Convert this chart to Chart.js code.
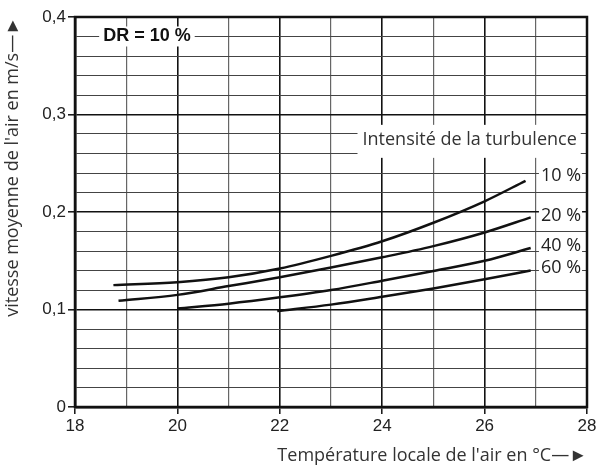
<!DOCTYPE html>
<html>
<head>
<meta charset="utf-8">
<script src="https://cdn.jsdelivr.net/npm/chart.js@4/dist/chart.umd.min.js"></script>
<style>
  html, body { margin: 0; padding: 0; background: #fff; }
  #wrap { width: 597px; height: 467px; }
</style>
</head>
<body>
<div id="wrap"><canvas id="myChart" width="597" height="467"></canvas></div>
<script>
// DR = 10 % curves
const temp10 = [18.75, 20, 21, 22, 23, 24, 25, 26, 26.8]
const speed10 = [0.125, 0.128, 0.133, 0.142, 0.155, 0.17, 0.189, 0.211, 0.232]
const temp20 = [18.85, 20, 21, 22, 23, 24, 25, 26, 26.9]
const speed20 = [0.109, 0.115, 0.124, 0.133, 0.143, 0.1535, 0.165, 0.179, 0.1945]
const temp40 = [20, 21, 22, 23, 24, 25, 26, 26.9]
const speed40 = [0.101, 0.106, 0.1125, 0.12, 0.1295, 0.1395, 0.15, 0.163]
const temp60 = [21.95, 23, 24, 25, 26, 26.9]
const speed60 = [0.0985, 0.105, 0.113, 0.1215, 0.131, 0.14]

const turbLabels = ['10 %', '20 %', '40 %', '60 %']
const turbLabelY = [0.237, 0.196, 0.165, 0.1425]
const xTickLabels = [18, 20, 22, 24, 26, 28]
const yTickLabels = ['0', '0,1', '0,2', '0,3', '0,4']

function pts(xs, ys) {
  var out = []
  for (var i = 0; i < xs.length; i++) {
    out.push({x: xs[i], y: ys[i]})
  }
  return out
}

function curve(xs, ys) {
  return {
    data: pts(xs, ys),
    borderColor: '#111',
    borderWidth: 2.5,
    pointRadius: 0,
    fill: false,
    cubicInterpolationMode: 'monotone'
  }
}

function isMajorY(v) {
  return Math.round(v * 100) % 10 === 0
}

function isMajorX(v) {
  return xTickLabels.indexOf(Math.round(v)) !== -1
}

// white boxes + labels on top of the grid
var annotate = {
  id: 'annotate',
  beforeDatasetsDraw: function(chart) {
    var ctx = chart.ctx
    var xs = chart.scales.x, ys = chart.scales.y
    ctx.save()
    // DR box
    ctx.font = 'bold 18px "Liberation Sans", Arial, sans-serif'
    ctx.textBaseline = 'middle'
    ctx.textAlign = 'left'
    var t = 'DR = 10 %'
    var w = ctx.measureText(t).width
    var lx = xs.getPixelForValue(18.55), ly = ys.getPixelForValue(0.38)
    ctx.fillStyle = '#fff'
    ctx.fillRect(lx - 4, ly - 10, w + 8, 20)
    ctx.fillStyle = '#111'
    ctx.fillText(t, lx, ly)
    // legend title
    ctx.font = '18px "Open Sans", sans-serif'
    t = 'Intensité de la turbulence'
    w = ctx.measureText(t).width
    lx = xs.getPixelForValue(27.8) - w
    ly = ys.getPixelForValue(0.274)
    ctx.fillStyle = '#fff'
    ctx.fillRect(lx - 5, ly - 15, w + 9, 33)
    ctx.fillStyle = '#333'
    ctx.fillText(t, lx, ly)
    // curve labels
    for (var i = 0; i < turbLabels.length; i++) {
      w = ctx.measureText(turbLabels[i]).width
      lx = xs.getPixelForValue(27.1)
      ly = ys.getPixelForValue(turbLabelY[i])
      ctx.fillStyle = '#fff'
      ctx.fillRect(lx - 2, ly - 10, w + 3, 20)
      ctx.fillStyle = '#222'
      ctx.fillText(turbLabels[i], lx, ly)
    }
    ctx.restore()
  },
  afterDraw: function(chart) {
    var a = chart.chartArea
    var ctx = chart.ctx
    ctx.save()
    ctx.strokeStyle = '#111'
    ctx.lineWidth = 2.5
    ctx.strokeRect(a.left, a.top, a.right - a.left, a.bottom - a.top)
    ctx.restore()
  }
}

var ctx = document.getElementById('myChart').getContext('2d')
var myChart = new Chart(ctx, {
  type: 'line',
  data: {
    datasets: [curve(temp10, speed10), curve(temp20, speed20), curve(temp40, speed40), curve(temp60, speed60)]
  },
  options: {
    responsive: false,
    animation: false,
    layout: { padding: { top: 17, right: 10, left: 0, bottom: 0 } },
    plugins: { legend: { display: false }, tooltip: { enabled: false } },
    scales: {
      x: {
        type: 'linear',
        min: 18,
        max: 28,
        afterFit: function(scale) {
          scale.height = 60
          scale.paddingLeft = 0
          scale.paddingRight = 0
        },
        ticks: {
          stepSize: 1,
          autoSkip: false,
          maxRotation: 0,
          padding: 2,
          color: '#222',
          font: { family: '"Liberation Sans", Arial, sans-serif', size: 17 },
          callback: function(v) { return isMajorX(v) ? String(v) : '' }
        },
        grid: {
          color: function(c) { return isMajorX(c.tick.value) ? '#111' : '#666' },
          lineWidth: function(c) { return isMajorX(c.tick.value) ? 1.6 : 1.2 },
          tickColor: function(c) { return isMajorX(c.tick.value) ? '#111' : 'rgba(0,0,0,0)' },
          tickLength: 7,
          tickWidth: 1.5
        },
        border: { color: '#111', width: 2.5 },
        title: {
          display: true,
          text: 'Température locale de l\'air en °C—►',
          align: 'end',
          color: '#333',
          font: { family: '"Open Sans", sans-serif', size: 18 },
          padding: { top: 0, bottom: 0 }
        }
      },
      y: {
        type: 'linear',
        min: 0,
        max: 0.4,
        afterFit: function(scale) {
          scale.width = 75
          scale.paddingTop = 0
          scale.paddingBottom = 0
        },
        ticks: {
          stepSize: 0.02,
          autoSkip: false,
          padding: 2,
          color: '#222',
          font: { family: '"Liberation Sans", Arial, sans-serif', size: 17 },
          callback: function(v) {
            if (!isMajorY(v)) return ''
            return yTickLabels[Math.round(v * 10)]
          }
        },
        grid: {
          color: function(c) { return isMajorY(c.tick.value) ? '#111' : '#444' },
          lineWidth: function(c) { return isMajorY(c.tick.value) ? 1.6 : 1 },
          tickColor: function(c) { return isMajorY(c.tick.value) ? '#111' : 'rgba(0,0,0,0)' },
          tickLength: 7,
          tickWidth: 1.5
        },
        border: { color: '#111', width: 2.5 },
        title: {
          display: true,
          text: 'vitesse moyenne de l\'air en m/s—►',
          align: 'end',
          color: '#333',
          font: { family: '"Open Sans", sans-serif', size: 18 },
          padding: { top: 2, bottom: 0 }
        }
      }
    }
  },
  plugins: [annotate]
})
</script>
</body>
</html>
